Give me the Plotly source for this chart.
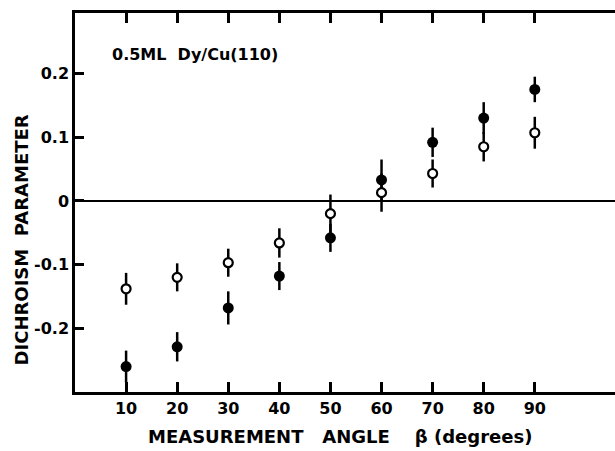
import plotly.graph_objects as go

angles = [10, 20, 30, 40, 50, 60, 70, 80, 90]
open_vals = [-0.138, -0.120, -0.097, -0.066, -0.020, 0.013, 0.043, 0.085, 0.107]
open_err = [0.025, 0.022, 0.022, 0.023, 0.030, 0.030, 0.022, 0.023, 0.025]
filled_vals = [-0.260, -0.229, -0.168, -0.118, -0.058, 0.033, 0.092, 0.130, 0.175]
filled_err = [0.025, 0.023, 0.026, 0.022, 0.022, 0.032, 0.023, 0.025, 0.020]
y_ticks = [-0.2, -0.1, 0, 0.1, 0.2]
y_ticktext = ["-0.2", "-0.1", "0", "0.1", "0.2"]
x_ticks = [10, 20, 30, 40, 50, 60, 70, 80, 90]

FONT = "DejaVu Sans"
W = "bold"

fig = go.Figure()
fig.add_trace(go.Scatter(
    x=angles, y=filled_vals, mode="markers",
    marker=dict(symbol="circle", size=11, color="black"),
    error_y=dict(type="data", array=filled_err, color="black", thickness=2.5, width=0),
    showlegend=False))
fig.add_trace(go.Scatter(
    x=angles, y=open_vals, mode="markers",
    marker=dict(symbol="circle", size=9, color="white", line=dict(color="black", width=2.2)),
    error_y=dict(type="data", array=open_err, color="black", thickness=2.5, width=0),
    showlegend=False))

fig.update_layout(
    width=615, height=451,
    margin=dict(l=75, r=0, t=13, b=59),
    plot_bgcolor="white", paper_bgcolor="white",
    font=dict(family=FONT, color="black", size=16, weight=W),
    xaxis=dict(range=[0, 105.7], tickvals=x_ticks, ticks="inside", ticklen=10, tickwidth=2.5,
               tickcolor="black", showline=True, linewidth=2.5, linecolor="black",
               mirror="ticks", showgrid=False, zeroline=False,
               tickfont=dict(size=16, family=FONT, weight=W)),
    yaxis=dict(range=[-0.3, 0.295], tickvals=y_ticks, ticktext=y_ticktext, ticks="inside",
               ticklen=9, tickwidth=2.5, tickcolor="black", showline=True, linewidth=2.5,
               linecolor="black", showgrid=False, zeroline=True, zerolinecolor="black",
               zerolinewidth=2, tickfont=dict(size=16, family=FONT, weight=W)),
    annotations=[
        dict(text="0.5ML  Dy/Cu(110)", xref="paper", yref="paper", x=0.065, y=0.89,
             xanchor="left", yanchor="middle", showarrow=False, font=dict(size=16, weight=W)),
        dict(text="DICHROISM  PARAMETER", xref="paper", yref="paper", x=-0.1, y=0.40,
             xanchor="center", yanchor="middle", textangle=-90, showarrow=False,
             font=dict(size=18, weight=W)),
        dict(text="MEASUREMENT   ANGLE    β (degrees)", xref="paper", yref="paper", x=0.49, y=-0.118,
             xanchor="center", yanchor="middle", showarrow=False, font=dict(size=18, weight=W)),
    ],
)
fig.write_html("out.html")
